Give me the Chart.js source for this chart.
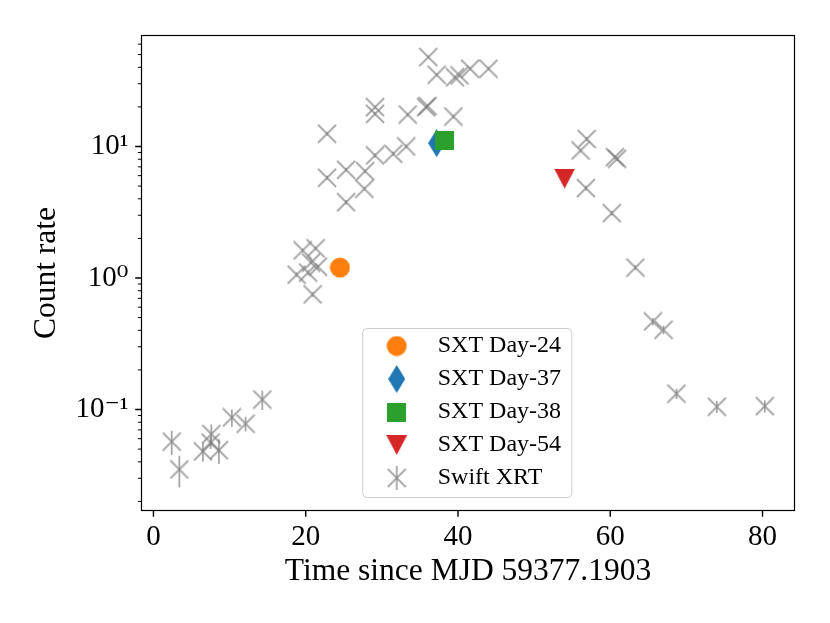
<!DOCTYPE html>
<html>
<head>
<meta charset="utf-8">
<script src="https://cdn.jsdelivr.net/npm/chart.js@4.4.0/dist/chart.umd.min.js"></script>
<style>html,body{margin:0;padding:0;background:#fff}</style>
</head>
<body>
<canvas id="lightCurve" width="830" height="623"></canvas>
<script>
// Swift XRT light curve (days since MJD 59377.1903, counts/s)
const xrtTime = [2.4, 3.4, 6.5, 7.5, 7.6, 8.6, 10.3, 12.1, 14.3,
    18.8, 19.6, 20.3, 20.7, 20.9, 21.3, 21.6,
    22.8, 22.8, 25.3, 25.3, 27.7, 27.8,
    29.1, 29.1, 29.1, 31.5, 33.2, 33.4, 35.8, 36.0, 36.1, 37.2, 39.4, 39.6, 40.2, 41.6, 44.0,
    56.1, 56.8, 56.9, 60.2, 60.6, 60.9, 63.3, 65.6, 67.0, 68.7, 74.0, 80.3];
const xrtRate = [0.057, 0.035, 0.048, 0.056, 0.065, 0.049, 0.087, 0.078, 0.119,
    1.06, 1.62, 1.10, 1.31, 0.75, 1.68, 1.22,
    5.78, 12.5, 6.65, 3.77, 4.77, 6.49,
    8.55, 17.7, 19.9, 8.80, 10.0, 17.5, 19.9, 20.3, 47.8, 35.1, 16.9, 33.6, 34.7, 39.0, 39.0,
    9.32, 4.82, 11.4, 3.11, 8.29, 8.06, 1.20, 0.467, 0.404, 0.132, 0.105, 0.106];
const xrtErr = [0.012, 0.0095, 0.008, 0.006, 0.012, 0.0105, 0.013, 0.010, 0.020,
    0.04, 0.05, 0.04, 0.04, 0.03, 0.05, 0.04,
    0.2, 0.4, 0.2, 0.15, 0.15, 0.2,
    0.3, 0.5, 0.5, 0.3, 0.3, 0.5, 0.5, 0.5, 1.2, 0.9, 0.5, 0.9, 0.9, 1.0, 1.0,
    0.3, 0.2, 0.4, 0.12, 0.3, 0.3, 0.05, 0.03, 0.03, 0.012, 0.011, 0.011];

// AstroSat SXT points
const sxtLabels = ['SXT Day-24', 'SXT Day-37', 'SXT Day-38', 'SXT Day-54'];
const sxtTime = [24.5, 37.2, 38.2, 54.0];
const sxtRate = [1.2, 10.6, 11.2, 5.7];

const xTicks = [0, 20, 40, 60, 80];
const yTicks = [0.1, 1, 10];
const yTickLabels = ['10\u207B\u00B9', '10\u2070', '10\u00B9'];
const yMinorTicks = [0.02, 0.03, 0.04, 0.05, 0.06, 0.07, 0.08, 0.09,
    0.2, 0.3, 0.4, 0.5, 0.6, 0.7, 0.8, 0.9,
    2, 3, 4, 5, 6, 7, 8, 9, 20, 30, 40, 50, 60];

const serif = '"Liberation Serif", "DejaVu Serif", serif';
const grey = 'rgba(128,128,128,0.7)';

function marker(w, h, draw) {
    const c = document.createElement('canvas');
    c.width = w; c.height = h;
    draw(c.getContext('2d'), w, h);
    return c;
}
function crossPath(g, cx, cy, r) {
    g.strokeStyle = grey; g.lineWidth = 1.8;
    g.beginPath();
    g.moveTo(cx - r, cy - r); g.lineTo(cx + r, cy + r);
    g.moveTo(cx - r, cy + r); g.lineTo(cx + r, cy - r);
    g.stroke();
}
const crossImg = marker(20, 20, (g) => crossPath(g, 10, 10, 9));
const crossBarImg = marker(20, 30, (g) => {
    crossPath(g, 10, 15, 9);
    g.beginPath(); g.moveTo(10, 3); g.lineTo(10, 27); g.stroke();
});
const circleImg = marker(21, 21, (g) => {
    g.fillStyle = '#ff7f0e'; g.beginPath(); g.arc(10.5, 10.5, 10, 0, 2 * Math.PI); g.fill();
});
const diamondImg = marker(17, 28, (g) => {
    g.fillStyle = '#1f77b4'; g.beginPath();
    g.moveTo(8.5, 0); g.lineTo(17, 14); g.lineTo(8.5, 28); g.lineTo(0, 14); g.closePath(); g.fill();
});
const squareImg = marker(19, 19, (g) => { g.fillStyle = '#2ca02c'; g.fillRect(0, 0, 19, 19); });
const triangleImg = marker(21, 20, (g) => {
    g.fillStyle = '#d62728'; g.beginPath();
    g.moveTo(0, 0); g.lineTo(21, 0); g.lineTo(10.5, 20); g.closePath(); g.fill();
});
const sxtImgs = [circleImg, diamondImg, squareImg, triangleImg];
const sxtOrder = [0, 2, 1, 0];

const datasets = sxtLabels.map((lab, i) => ({
    label: lab,
    data: [{x: sxtTime[i], y: sxtRate[i]}],
    pointStyle: sxtImgs[i],
    legendStyle: sxtImgs[i],
    order: sxtOrder[i]
}));
datasets.push({
    label: 'Swift XRT',
    data: xrtTime.map((t, i) => ({x: t, y: xrtRate[i]})),
    pointStyle: crossImg,
    legendStyle: crossBarImg,
    order: 5
});

// vertical error bars of the XRT points
const errorBars = {
    id: 'errorBars',
    beforeDatasetsDraw(chart) {
        const {ctx, chartArea: a, scales: {x, y}} = chart;
        ctx.save();
        ctx.beginPath(); ctx.rect(a.left, a.top, a.width, a.height); ctx.clip();
        ctx.strokeStyle = grey; ctx.lineWidth = 1.8;
        xrtTime.forEach((t, i) => {
            const px = x.getPixelForValue(t);
            ctx.beginPath();
            ctx.moveTo(px, y.getPixelForValue(xrtRate[i] - xrtErr[i]));
            ctx.lineTo(px, y.getPixelForValue(xrtRate[i] + xrtErr[i]));
            ctx.stroke();
        });
        ctx.restore();
    }
};

// axes frame with outward major/minor ticks
const frame = {
    id: 'frame',
    afterDraw(chart) {
        const {ctx, chartArea: a, scales: {x, y}} = chart;
        ctx.save();
        ctx.strokeStyle = '#000';
        ctx.lineWidth = 1.4;
        ctx.beginPath();
        xTicks.forEach(v => { const p = x.getPixelForValue(v); ctx.moveTo(p, a.bottom); ctx.lineTo(p, a.bottom + 6.3); });
        yTicks.forEach(v => { const p = y.getPixelForValue(v); ctx.moveTo(a.left, p); ctx.lineTo(a.left - 6.3, p); });
        ctx.stroke();
        ctx.lineWidth = 1;
        ctx.beginPath();
        yMinorTicks.forEach(v => { const p = y.getPixelForValue(v); ctx.moveTo(a.left, p); ctx.lineTo(a.left - 3.6, p); });
        ctx.stroke();
        ctx.lineWidth = 1.2;
        ctx.strokeRect(a.left, a.top, a.width, a.height);
        ctx.restore();
    }
};

// legend placed at lower centre of the axes with a rounded frame
const legendFrame = {
    id: 'legendFrame',
    beforeDraw(chart) {
        const {ctx, chartArea: a, legend} = chart;
        const cx = (a.left + a.right) / 2;
        legend.left = cx - 109.25;
        legend.top = a.bottom - 185.5;
        legend.right = legend.left + 220;
        legend.bottom = a.bottom;
        legend.width = 220;
        ctx.save();
        ctx.fillStyle = 'rgba(255,255,255,0.8)';
        ctx.strokeStyle = '#cccccc';
        ctx.lineWidth = 1;
        ctx.beginPath();
        ctx.roundRect(cx - 105.25, a.bottom - 182, 209, 169, 4);
        ctx.fill(); ctx.stroke();
        ctx.restore();
    }
};

new Chart(document.getElementById('lightCurve'), {
    type: 'scatter',
    data: {datasets: datasets},
    plugins: [errorBars, frame, legendFrame],
    options: {
        responsive: false,
        animation: false,
        events: [],
        layout: {padding: {top: 35.5, right: 35.5, left: 0, bottom: 0}},
        scales: {
            x: {
                type: 'linear',
                min: -1.57,
                max: 84.2,
                afterBuildTicks: (s) => { s.ticks = xTicks.map(v => ({value: v})); },
                afterFit: (s) => { s.height = 112.5; },
                grid: {display: false, drawTicks: false},
                border: {display: false},
                ticks: {color: '#000', font: {family: serif, size: 29}, padding: 9, maxRotation: 0},
                title: {display: true, text: 'Time since MJD 59377.1903', color: '#000',
                    font: {family: serif, size: 31.5}, padding: {top: 0, bottom: 32}}
            },
            y: {
                type: 'logarithmic',
                min: 0.01706,
                max: 69.8,
                afterBuildTicks: (s) => { s.ticks = yTicks.map(v => ({value: v})); },
                afterFit: (s) => { s.width = 141.5; },
                grid: {display: false, drawTicks: false},
                border: {display: false},
                ticks: {color: '#000', font: {family: serif, size: 29}, padding: 13,
                    callback: (v, i) => yTickLabels[i]},
                title: {display: true, text: 'Count rate', color: '#000',
                    font: {family: serif, size: 31.5}, padding: {top: 28, bottom: 0}}
            }
        },
        plugins: {
            tooltip: {enabled: false},
            legend: {
                position: 'chartArea',
                align: 'start',
                labels: {
                    usePointStyle: true,
                    pointStyleWidth: 58,
                    padding: 9,
                    color: '#000',
                    font: {family: serif, size: 24},
                    generateLabels: (chart) => chart.data.datasets.map((ds, i) => ({
                        text: ds.label,
                        pointStyle: ds.legendStyle,
                        fillStyle: 'rgba(0,0,0,0)',
                        strokeStyle: 'rgba(0,0,0,0)',
                        lineWidth: 0,
                        hidden: false,
                        datasetIndex: i,
                        fontColor: '#000'
                    }))
                }
            }
        }
    }
});
</script>
</body>
</html>
